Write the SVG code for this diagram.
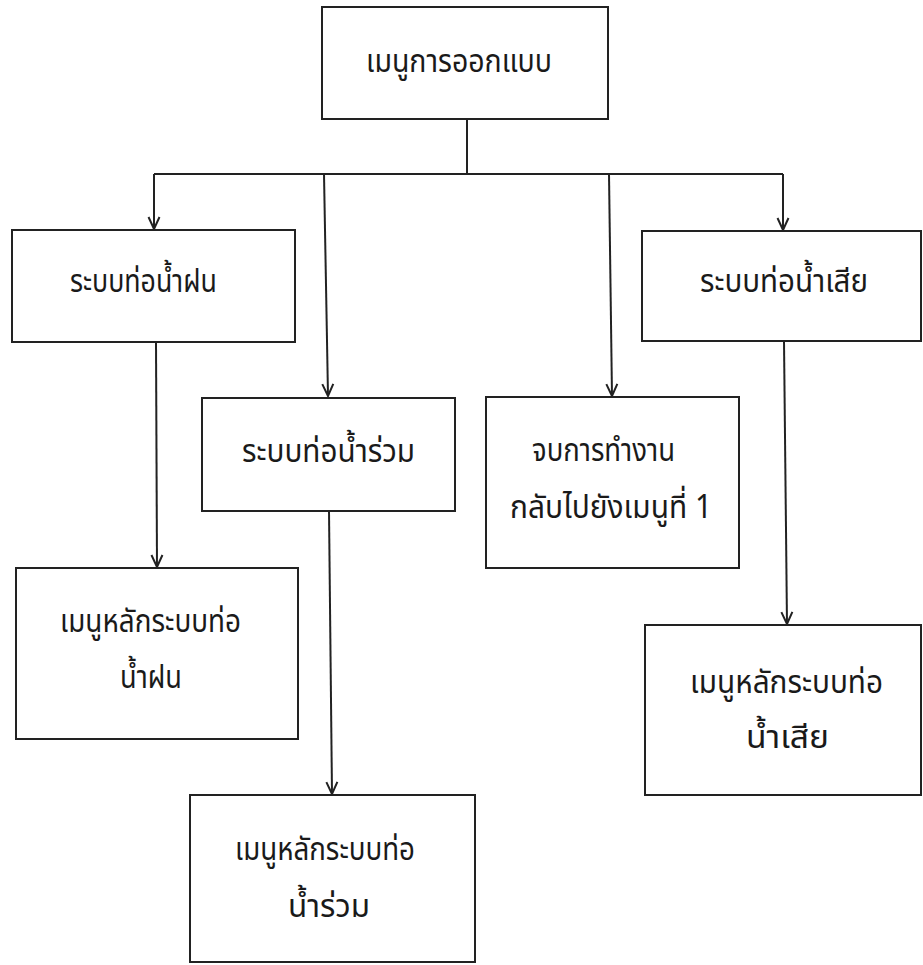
<svg xmlns="http://www.w3.org/2000/svg" width="923" height="965" viewBox="0 0 923 965">
<style>
.box{fill:#fff;stroke:#222;stroke-width:2}
.lbl{font-family:"Noto Sans Thai","Noto Serif Thai","Loma","Garuda","Norasi","Noto Sans","DejaVu Sans",sans-serif;font-size:32px;fill:#1a1a1a}
.con{fill:none;stroke:#222;stroke-width:2}
</style>
<defs>
<marker id="arr" markerUnits="userSpaceOnUse" markerWidth="14" markerHeight="14" viewBox="0 0 14 14" refX="13" refY="7" orient="auto">
<path d="M1,1.5 L13,7 L1,12.5" fill="none" stroke="#222" stroke-width="2"/>
</marker>
</defs>
<rect width="923" height="965" fill="#fff"/>
<g id="connectors">
<path class="con" d="M467,119 V174"/>
<path class="con" d="M154,174 H783"/>
<path class="con" d="M154,174 V229" marker-end="url(#arr)"/>
<path class="con" d="M324,174 L328,396" marker-end="url(#arr)"/>
<path class="con" d="M609,174 L612,396" marker-end="url(#arr)"/>
<path class="con" d="M783,174 V230" marker-end="url(#arr)"/>
<path class="con" d="M156,342 L157,567" marker-end="url(#arr)"/>
<path class="con" d="M329,511 L332,794" marker-end="url(#arr)"/>
<path class="con" d="M784,341 L787,624" marker-end="url(#arr)"/>
</g>
<g id="node-menu-design">
<rect class="box" x="322" y="7" width="286" height="112"/>
<text class="lbl" x="366" y="72" textLength="186" lengthAdjust="spacingAndGlyphs">เมนูการออกแบบ</text>
</g>
<g id="node-rain">
<rect class="box" x="12" y="230" width="283" height="112"/>
<text class="lbl" x="70" y="292" textLength="147" lengthAdjust="spacingAndGlyphs">ระบบท่อน้ำฝน</text>
</g>
<g id="node-combined">
<rect class="box" x="202" y="398" width="253" height="113"/>
<text class="lbl" x="242" y="462" textLength="173" lengthAdjust="spacingAndGlyphs">ระบบท่อน้ำร่วม</text>
</g>
<g id="node-exit">
<rect class="box" x="486" y="397" width="253" height="171"/>
<text class="lbl" x="532" y="461" textLength="143" lengthAdjust="spacingAndGlyphs">จบการทำงาน</text>
<text class="lbl" x="510" y="518" textLength="202" lengthAdjust="spacingAndGlyphs">กลับไปยังเมนูที่ 1</text>
</g>
<g id="node-waste">
<rect class="box" x="642" y="231" width="279" height="110"/>
<text class="lbl" x="700" y="292" textLength="168" lengthAdjust="spacingAndGlyphs">ระบบท่อน้ำเสีย</text>
</g>
<g id="node-rain-menu">
<rect class="box" x="16" y="568" width="282" height="171"/>
<text class="lbl" x="60" y="632" textLength="181" lengthAdjust="spacingAndGlyphs">เมนูหลักระบบท่อ</text>
<text class="lbl" x="120" y="688" textLength="62" lengthAdjust="spacingAndGlyphs">น้ำฝน</text>
</g>
<g id="node-waste-menu">
<rect class="box" x="645" y="625" width="276" height="170"/>
<text class="lbl" x="690" y="693" textLength="193" lengthAdjust="spacingAndGlyphs">เมนูหลักระบบท่อ</text>
<text class="lbl" x="746" y="748" textLength="83" lengthAdjust="spacingAndGlyphs">น้ำเสีย</text>
</g>
<g id="node-combined-menu">
<rect class="box" x="190" y="795" width="285" height="167"/>
<text class="lbl" x="235" y="860" textLength="180" lengthAdjust="spacingAndGlyphs">เมนูหลักระบบท่อ</text>
<text class="lbl" x="288" y="917" textLength="82" lengthAdjust="spacingAndGlyphs">น้ำร่วม</text>
</g>
</svg>
